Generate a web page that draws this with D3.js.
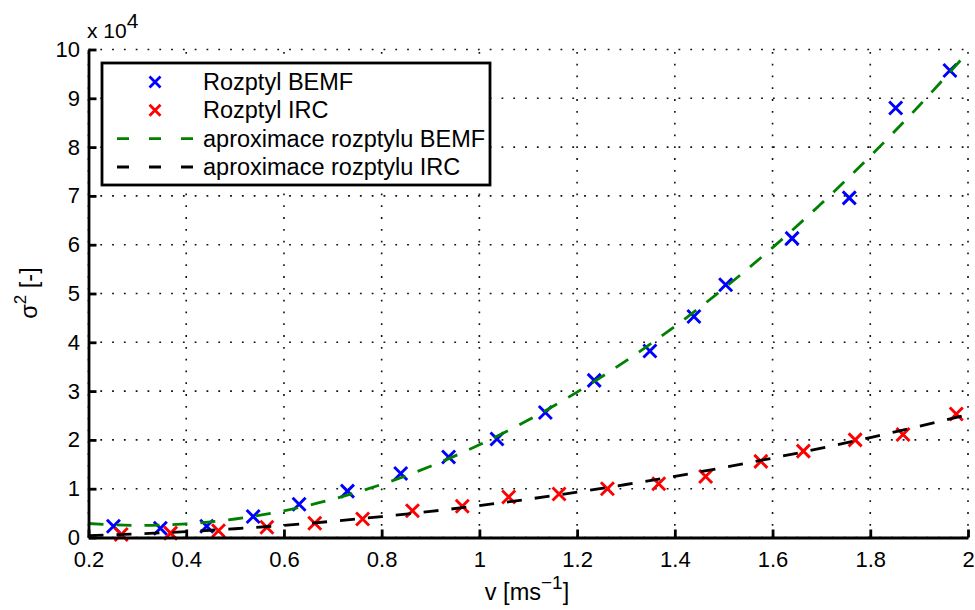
<!DOCTYPE html>
<html>
<head>
<meta charset="utf-8">
<script src="https://cdn.jsdelivr.net/npm/d3@7"></script>
<style>
  body { margin: 0; background: #fff; }
  text { font-family: "Liberation Sans", Arial, Helvetica, sans-serif; fill: #000; }
</style>
</head>
<body>
<script>
// measured points (sigma^2 in units of 1e4)
var bemfV = [0.251, 0.347, 0.442, 0.537, 0.631, 0.730, 0.839, 0.937, 1.036, 1.135, 1.235, 1.349, 1.439, 1.504, 1.640, 1.757, 1.852, 1.963],
    bemfS = [0.23, 0.19, 0.23, 0.43, 0.68, 0.95, 1.31, 1.65, 2.02, 2.56, 3.22, 3.82, 4.53, 5.18, 6.13, 6.96, 8.80, 9.57];
var ircV = [0.267, 0.368, 0.466, 0.565, 0.663, 0.761, 0.863, 0.965, 1.060, 1.163, 1.262, 1.367, 1.463, 1.576, 1.663, 1.769, 1.867, 1.976],
    ircS = [0.06, 0.09, 0.14, 0.21, 0.29, 0.38, 0.55, 0.64, 0.83, 0.89, 1.00, 1.10, 1.25, 1.56, 1.77, 2.00, 2.11, 2.53];

// approximation curves
var fitV = [0.2, 0.3, 0.4, 0.5, 0.6, 0.7, 0.8, 0.9, 1.0, 1.1, 1.2, 1.3, 1.4, 1.5, 1.6, 1.7, 1.8, 1.9, 2.0],
    bemfFit = [0.287, 0.249, 0.280, 0.379, 0.548, 0.784, 1.088, 1.460, 1.900, 2.406, 2.980, 3.620, 4.327, 5.100, 5.940, 6.844, 7.814, 8.849, 9.950],
    ircFit = [0.040, 0.074, 0.120, 0.179, 0.250, 0.333, 0.428, 0.535, 0.654, 0.786, 0.930, 1.086, 1.254, 1.435, 1.627, 1.832, 2.049, 2.278, 2.520];

var xTicks = [0.2, 0.4, 0.6, 0.8, 1, 1.2, 1.4, 1.6, 1.8, 2],
    yTicks = [0, 1, 2, 3, 4, 5, 6, 7, 8, 9, 10];

var legendItems = [
  {label: "Rozptyl BEMF", type: "marker", color: "#0000ff"},
  {label: "Rozptyl IRC", type: "marker", color: "#ff0000"},
  {label: "aproximace rozptylu BEMF", type: "line", color: "#008000"},
  {label: "aproximace rozptylu IRC", type: "line", color: "#000000"}
];

var W = 975, H = 610;
// plot box in pixels
var box = {left: 88.5, right: 968, top: 49.5, bottom: 537.5};

var svg = d3.select("body").append("svg")
            .attr("width", W)
            .attr("height", H);

var xScale = d3.scaleLinear().domain([0.2, 2]).range([box.left, box.right]),
    yScale = d3.scaleLinear().domain([0, 10]).range([box.bottom, box.top]);

// dotted grid
var grid = svg.append("g")
              .attr("stroke", "#111")
              .attr("stroke-width", 1.6)
              .attr("stroke-dasharray", "1.8,10");

grid.selectAll(".gx")
    .data(xTicks)
    .enter()
    .append("line")
    .attr("x1", d => xScale(d)).attr("x2", d => xScale(d))
    .attr("y1", box.bottom).attr("y2", box.top);

grid.selectAll(".gy")
    .data(yTicks)
    .enter()
    .append("line")
    .attr("x1", box.left).attr("x2", box.right)
    .attr("y1", d => yScale(d)).attr("y2", d => yScale(d));

// markers
function drawCross(sel, vs, ss, color) {
  var half = 6.5;
  sel.selectAll(null)
     .data(d3.range(vs.length))
     .enter()
     .append("path")
     .attr("d", i => {
       var cx = xScale(vs[i]), cy = yScale(ss[i]);
       return "M" + (cx - half) + "," + (cy - half) + "L" + (cx + half) + "," + (cy + half) +
              "M" + (cx - half) + "," + (cy + half) + "L" + (cx + half) + "," + (cy - half);
     })
     .attr("stroke", color)
     .attr("stroke-width", 2.9)
     .attr("fill", "none");
}

var marks = svg.append("g");
drawCross(marks, bemfV, bemfS, "#0000ff");
drawCross(marks, ircV, ircS, "#ff0000");

// fitted curves
var line = d3.line()
    .x(i => xScale(fitV[i]))
    .curve(d3.curveMonotoneX);

svg.append("path")
   .attr("d", line.y(i => yScale(bemfFit[i]))(d3.range(fitV.length)))
   .attr("fill", "none")
   .attr("stroke", "#008000")
   .attr("stroke-width", 2.8)
   .attr("stroke-dasharray", "15,13");

svg.append("path")
   .attr("d", line.y(i => yScale(ircFit[i]))(d3.range(fitV.length)))
   .attr("fill", "none")
   .attr("stroke", "#000")
   .attr("stroke-width", 2.8)
   .attr("stroke-dasharray", "15,13");

// axes (ticks pointing inward)
var xAxis = d3.axisBottom(xScale)
              .tickValues(xTicks)
              .tickFormat(d3.format("~g"))
              .tickSizeInner(-8)
              .tickSizeOuter(0)
              .tickPadding(14);

var yAxis = d3.axisLeft(yScale)
              .tickValues(yTicks)
              .tickFormat(d3.format("~g"))
              .tickSizeInner(-8)
              .tickSizeOuter(0)
              .tickPadding(8.5);

var gx = svg.append("g")
            .attr("transform", "translate(0," + box.bottom + ")")
            .call(xAxis);

var gy = svg.append("g")
            .attr("transform", "translate(" + box.left + ",0)")
            .call(yAxis);

[gx, gy].forEach(g => {
  g.attr("font-size", 22).attr("font-family", null);
  g.select(".domain").attr("stroke", "#000").attr("stroke-width", 2.8);
  g.selectAll(".tick line").attr("stroke", "#000").attr("stroke-width", 2.8);
  g.selectAll(".tick text").attr("fill", "#000");
});

// exponent label
var expo = svg.append("text")
              .attr("x", 87)
              .attr("y", 37.5)
              .attr("font-size", 21);
expo.append("tspan").text("x 10");
expo.append("tspan").attr("dy", -10).text("4");

// axis titles
var xl = svg.append("text")
            .attr("x", 527)
            .attr("y", 600)
            .attr("text-anchor", "middle")
            .attr("font-size", 23.5);
xl.append("tspan").text("v [ms");
xl.append("tspan").attr("dy", -11).attr("font-size", 19).text("\u22121");
xl.append("tspan").attr("dy", 11).text("]");

var yl = svg.append("text")
            .attr("transform", "translate(37,293) rotate(-90)")
            .attr("text-anchor", "middle")
            .attr("font-size", 23.5);
yl.append("tspan").text("\u03c3");
yl.append("tspan").attr("dy", -11).attr("font-size", 17).text("2");
yl.append("tspan").attr("dy", 11).text(" [-]");

// legend
var legend = svg.append("g");
legend.append("rect")
      .attr("x", 102).attr("y", 63)
      .attr("width", 388).attr("height", 122)
      .attr("fill", "#fff")
      .attr("stroke", "#000")
      .attr("stroke-width", 2.8);

var rowY = d3.scaleLinear().domain([0, 3]).range([82, 167]);

legendItems.forEach((it, i) => {
  var cy = rowY(i);
  if (it.type === "marker") {
    var half = 5.5, cx = 155;
    legend.append("path")
          .attr("d", "M" + (cx - half) + "," + (cy - half) + "L" + (cx + half) + "," + (cy + half) +
                     "M" + (cx - half) + "," + (cy + half) + "L" + (cx + half) + "," + (cy - half))
          .attr("stroke", it.color)
          .attr("stroke-width", 2.8)
          .attr("fill", "none");
  } else {
    legend.append("line")
          .attr("x1", 117).attr("x2", 193)
          .attr("y1", cy).attr("y2", cy)
          .attr("stroke", it.color)
          .attr("stroke-width", 2.8)
          .attr("stroke-dasharray", "12,20");
  }
  legend.append("text")
        .attr("x", 203)
        .attr("y", cy + 8)
        .attr("font-size", 23.5)
        .text(it.label);
});
</script>
</body>
</html>
